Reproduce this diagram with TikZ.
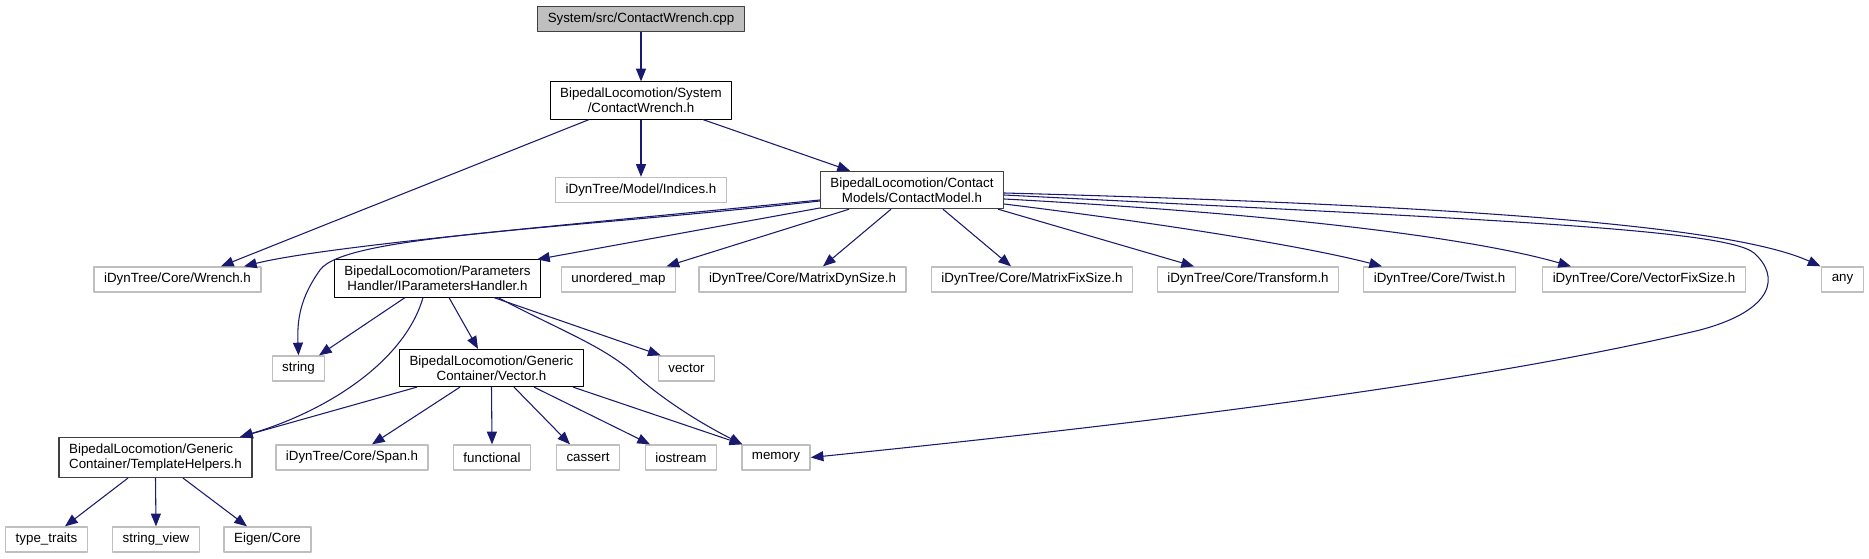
\documentclass[tikz,border=0pt]{standalone}
\usepackage{fontspec}
\setmainfont{Liberation Sans}
\usetikzlibrary{arrows.meta,calc}
\definecolor{edgeblue}{HTML}{191970}
\definecolor{boxgrey}{HTML}{BFBFBF}
\definecolor{darkgrey}{HTML}{404040}
\begin{document}
\begin{tikzpicture}[x=0.75pt, y=-0.75pt, line join=round, >={Triangle[length=9.5pt,width=7.5pt]},
	file/.style={draw, line width=0.8pt, inner xsep=7.5pt, inner ysep=4.5pt, minimum height=18.75pt, font=\fontsize{10}{11.5}\selectfont, align=center},
	root/.style={file, fill=boxgrey, draw=darkgrey},
	part/.style={file, draw=darkgrey, line width=1pt},
	lib/.style={file, draw=boxgrey, line width=1pt},
	dep/.style={->, edgeblue, line width=0.8pt}]
	\useasboundingbox (0,0) rectangle (1869,559);
	\node[root] (cpp) at (641,19) {System/src/ContactWrench.cpp};
	\node[file] (cw) at (641,100.5) {BipedalLocomotion/System\\/ContactWrench.h};
	\node[lib] (idx) at (641,190) {iDynTree/Model/Indices.h};
	\node[part] (cm) at (912,190) {BipedalLocomotion/Contact\\Models/ContactModel.h};
	\node[lib] (wr) at (177.5,279.5) {iDynTree/Core/Wrench.h};
	\node[file] (ph) at (437.5,278.5) {BipedalLocomotion/Parameters\\Handler/IParametersHandler.h};
	\node[lib] (um) at (618.5,279.5) {unordered\_map};
	\node[lib] (mds) at (802.5,279.5) {iDynTree/Core/MatrixDynSize.h};
	\node[lib] (mfs) at (1032,279.5) {iDynTree/Core/MatrixFixSize.h};
	\node[lib] (tf) at (1248,279.5) {iDynTree/Core/Transform.h};
	\node[lib] (tw) at (1439.5,279.5) {iDynTree/Core/Twist.h};
	\node[lib] (vfs) at (1644,279.5) {iDynTree/Core/VectorFixSize.h};
	\node[lib] (any) at (1842.5,279.5) {any};
	\node[lib] (str) at (298.5,368.5) {string};
	\node[file] (vec) at (491.5,368) {BipedalLocomotion/Generic\\Container/Vector.h};
	\node[lib] (vct) at (686.5,368.5) {vector};
	\node[part, align=left] (th) at (155.5,457.5) {BipedalLocomotion/Generic\\Container/TemplateHelpers.h};
	\node[lib] (span) at (352,457.5) {iDynTree/Core/Span.h};
	\node[lib] (fun) at (492,457.5) {functional};
	\node[lib] (cas) at (588,457.5) {cassert};
	\node[lib] (ios) at (681,457.5) {iostream};
	\node[lib] (mem) at (776,457.5) {memory};
	\node[lib] (tt) at (46.5,539.5) {type\_traits};
	\node[lib] (sv) at (156,539.5) {string\_view};
	\node[lib] (eig) at (267.5,539.5) {Eigen/Core};
	\draw[dep] (cpp) -- (cw);
	\draw[dep] ($(cw.south)+(-52,0)$) -- ($(wr.north)+(43.5,0)$);
	\draw[dep] (cw) -- (idx);
	\draw[dep] ($(cw.south)+(62,0)$) -- ($(cm.north)+(-62,0)$);
	\draw[dep] ($(cm.west)+(0,10)$) .. controls (600,222) and (330,245) .. ($(wr.north)+(66.5,0)$);
	\draw[dep] ($(cm.west)+(0,11)$) .. controls (560,230) and (345,235) .. (320,270) .. controls (300,298) and (297,320) .. (str.north);
	\draw[dep] ($(cm.west)+(0,18)$) -- ($(ph.north east)+(-4,0)$);
	\draw[dep] ($(cm.south)+(-63,0)$) -- ($(um.north)+(48,0)$);
	\draw[dep] ($(cm.south)+(-21,0)$) -- ($(mds.north)+(20.5,0)$);
	\draw[dep] ($(cm.south)+(31,0)$) -- ($(mfs.north)+(-21,0)$);
	\draw[dep] ($(cm.south east)+(-6,0)$) -- ($(tf.north)+(-54,0)$);
	\draw[dep] ($(cm.east)+(0,14)$) .. controls (1150,222) and (1300,245) .. ($(tw.north)+(-57.5,0)$);
	\draw[dep] ($(cm.east)+(0,9)$) .. controls (1300,215) and (1480,240) .. ($(vfs.north)+(-73,0)$);
	\draw[dep] ($(cm.east)+(0,5)$) .. controls (1450,218) and (1725,228) .. (1754,253) .. controls (1780,276) and (1775,310) .. (1700,330) .. controls (1450,390) and (1050,433) .. (mem.east);
	\draw[dep] ($(cm.east)+(0,3)$) .. controls (1450,205) and (1730,225) .. ($(any.north)+(-22,0)$);
	\draw[dep] ($(ph.south)+(-32.5,0)$) -- ($(str.north)+(20.5,0)$);
	\draw[dep] ($(ph.south)+(-14.5,0)$) .. controls (405,360) and (330,410) .. ($(th.north)+(84.5,0)$);
	\draw[dep] ($(ph.south)+(11.5,0)$) -- ($(vec.north)+(-13.5,0)$);
	\draw[dep] ($(ph.south)+(56.5,0)$) -- ($(vct.north west)+(3,0)$);
	\draw[dep] ($(ph.south)+(60.5,0)$) .. controls (560,330) and (600,345) .. (630,370) .. controls (660,398) and (700,423) .. ($(mem.north west)+(1,0)$);
	\draw[dep] ($(vec.south)+(-74.5,0)$) -- ($(th.north)+(84.5,0)$);
	\draw[dep] ($(vec.south)+(-31.5,0)$) -- ($(span.north)+(20,0)$);
	\draw[dep] (vec.south) -- (fun.north);
	\draw[dep] ($(vec.south)+(22.5,0)$) -- ($(cas.north)+(-18,0)$);
	\draw[dep] ($(vec.south)+(42.5,0)$) -- ($(ios.north)+(-31,0)$);
	\draw[dep] ($(vec.south)+(81.5,0)$) -- ($(mem.north west)+(1,0)$);
	\draw[dep] ($(th.south)+(-27.5,0)$) -- ($(tt.north)+(18.5,0)$);
	\draw[dep] (th.south) -- (sv.north);
	\draw[dep] ($(th.south)+(27.5,0)$) -- ($(eig.north)+(-20.5,0)$);
\end{tikzpicture}
\end{document}
